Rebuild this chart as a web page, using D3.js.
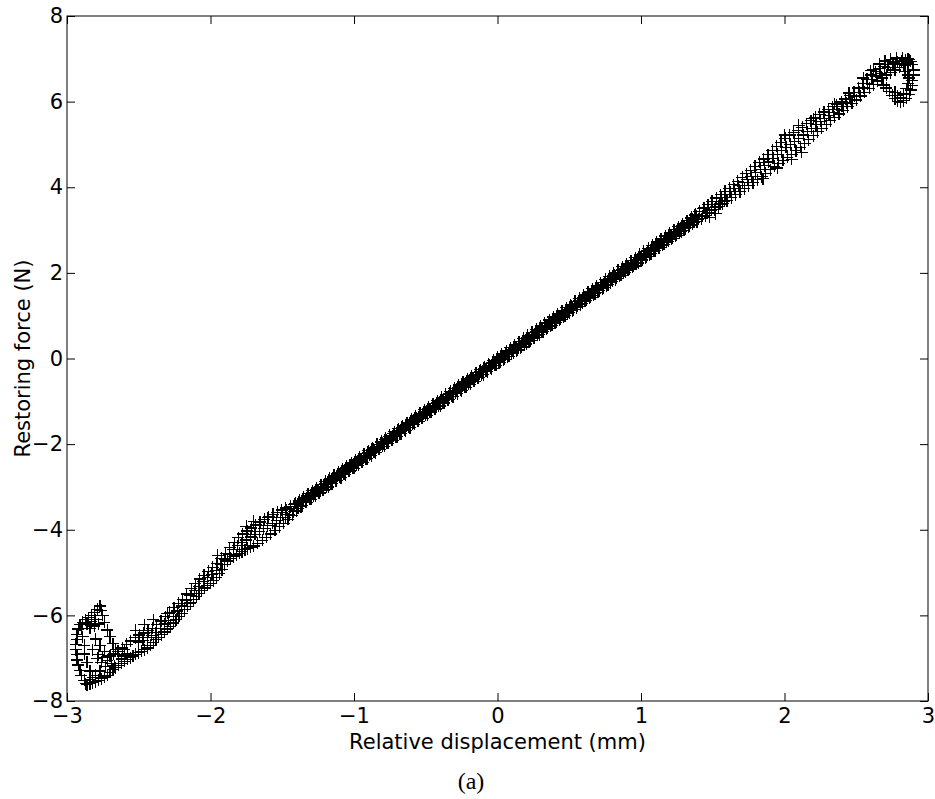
<!DOCTYPE html>
<html>
<head>
<meta charset="utf-8">
<script src="https://cdn.jsdelivr.net/npm/d3@7"></script>
<style>
  body { margin: 0; background: #fff; }
  svg { display: block; }
</style>
</head>
<body>
<svg id="plot"></svg>
<script>
// tick values
const xTicks = [-3, -2, -1, 0, 1, 2, 3];
const yTicks = [-8, -6, -4, -2, 0, 2, 4, 6, 8];

// loading branch (lower side of the band)
const lowerBranch = [
  [-2.86,-7.62],[-2.84,-7.60],[-2.82,-7.57],[-2.80,-7.55],[-2.78,-7.52],[-2.76,-7.48],[-2.74,-7.44],[-2.72,-7.40],
  [-2.70,-7.33],[-2.68,-7.27],[-2.66,-7.22],[-2.64,-7.17],[-2.62,-7.12],[-2.60,-7.07],[-2.58,-7.03],[-2.56,-6.99],
  [-2.54,-6.95],[-2.52,-6.91],[-2.50,-6.87],[-2.48,-6.84],[-2.46,-6.80],[-2.44,-6.76],[-2.42,-6.70],[-2.40,-6.64],
  [-2.38,-6.57],[-2.36,-6.51],[-2.34,-6.45],[-2.32,-6.39],[-2.30,-6.32],[-2.28,-6.26],[-2.26,-6.18],[-2.24,-6.10],
  [-2.22,-6.02],[-2.20,-5.95],[-2.18,-5.87],[-2.16,-5.79],[-2.14,-5.71],[-2.12,-5.63],[-2.10,-5.56],[-2.08,-5.49],
  [-2.06,-5.42],[-2.04,-5.36],[-2.02,-5.30],[-2.00,-5.25],[-1.98,-5.19],[-1.96,-5.12],[-1.94,-5.03],[-1.92,-4.93],
  [-1.90,-4.82],[-1.88,-4.73],[-1.86,-4.67],[-1.84,-4.63],[-1.82,-4.59],[-1.80,-4.55],[-1.78,-4.51],[-1.76,-4.47],
  [-1.74,-4.44],[-1.72,-4.41],[-1.70,-4.38],[-1.67,-4.32],[-1.64,-4.25],[-1.61,-4.18],[-1.58,-4.10],[-1.55,-4.01],
  [-1.52,-3.93],[-1.49,-3.85],[-1.46,-3.76],[-1.43,-3.66],[-1.40,-3.56],[-1.37,-3.46],[-1.34,-3.35],[-1.31,-3.28],
  [-1.28,-3.21],[-1.25,-3.14],[-1.22,-3.06],[-1.19,-2.99],[-1.16,-2.92],[-1.13,-2.85],[-1.10,-2.77],[-1.07,-2.70],
  [-1.04,-2.63],[-1.01,-2.55],[-0.98,-2.48],[-0.95,-2.41],[-0.92,-2.34],[-0.89,-2.26],[-0.86,-2.19],[-0.83,-2.12],
  [-0.80,-2.05],[-0.77,-1.97],[-0.74,-1.90],[-0.71,-1.83],[-0.68,-1.76],[-0.65,-1.68],[-0.62,-1.61],[-0.59,-1.54],
  [-0.56,-1.47],[-0.53,-1.39],[-0.50,-1.32],[-0.47,-1.25],[-0.44,-1.17],[-0.41,-1.10],[-0.38,-1.03],[-0.35,-0.96],
  [-0.32,-0.88],[-0.29,-0.81],[-0.26,-0.74],[-0.23,-0.67],[-0.20,-0.59],[-0.17,-0.52],[-0.14,-0.45],[-0.11,-0.38],
  [-0.08,-0.30],[-0.05,-0.23],[-0.02,-0.16],[0.01,-0.10],[0.04,-0.03],[0.07,0.04],[0.10,0.11],[0.13,0.18],
  [0.16,0.25],[0.19,0.32],[0.22,0.39],[0.25,0.47],[0.28,0.54],[0.31,0.61],[0.34,0.68],[0.37,0.76],
  [0.40,0.83],[0.43,0.90],[0.46,0.97],[0.49,1.05],[0.52,1.12],[0.55,1.19],[0.58,1.26],[0.61,1.34],
  [0.64,1.41],[0.67,1.48],[0.70,1.55],[0.73,1.63],[0.76,1.70],[0.79,1.77],[0.82,1.84],[0.85,1.92],
  [0.88,1.99],[0.91,2.06],[0.94,2.13],[0.97,2.21],[1.00,2.28],[1.03,2.35],[1.06,2.42],[1.09,2.50],
  [1.12,2.57],[1.15,2.64],[1.18,2.71],[1.21,2.78],[1.24,2.85],[1.27,2.92],[1.30,2.99],[1.33,3.06],
  [1.36,3.13],[1.39,3.20],[1.42,3.27],[1.45,3.34],[1.48,3.41],[1.51,3.48],[1.54,3.55],[1.57,3.62],
  [1.60,3.69],[1.63,3.76],[1.66,3.83],[1.69,3.90],[1.72,3.97],[1.75,4.04],[1.78,4.11],[1.81,4.18],
  [1.84,4.25],[1.87,4.33],[1.90,4.41],[1.93,4.49],[1.96,4.56],[1.99,4.63],[2.02,4.70],[2.05,4.77],
  [2.08,4.85],[2.11,4.93],[2.14,5.02],[2.17,5.11],[2.20,5.20],[2.23,5.30],[2.26,5.38],[2.29,5.46],
  [2.32,5.55],[2.35,5.63],[2.38,5.71],[2.41,5.80],[2.44,5.88],[2.47,5.96],[2.50,6.04],[2.53,6.13],
  [2.56,6.22],[2.59,6.31],[2.62,6.40],[2.65,6.48],[2.68,6.55],[2.71,6.62],[2.74,6.68],[2.77,6.74],
  [2.80,6.80],[2.83,6.86],[2.86,6.90],[2.88,6.94]
];

// unloading branch (upper side of the band)
const upperBranch = [
  [-2.705,-6.95],[-2.675,-6.90],[-2.645,-6.84],[-2.615,-6.76],[-2.585,-6.68],[-2.555,-6.60],[-2.525,-6.52],[-2.495,-6.46],
  [-2.465,-6.41],[-2.435,-6.36],[-2.405,-6.30],[-2.375,-6.22],[-2.345,-6.13],[-2.315,-6.03],[-2.285,-5.93],[-2.255,-5.82],
  [-2.225,-5.72],[-2.195,-5.62],[-2.165,-5.50],[-2.135,-5.38],[-2.105,-5.26],[-2.075,-5.15],[-2.045,-5.06],[-2.015,-4.97],
  [-1.985,-4.88],[-1.955,-4.78],[-1.925,-4.67],[-1.895,-4.55],[-1.865,-4.42],[-1.835,-4.30],[-1.805,-4.19],[-1.775,-4.10],
  [-1.745,-4.03],[-1.715,-3.96],[-1.685,-3.89],[-1.655,-3.82],[-1.625,-3.76],[-1.595,-3.70],[-1.565,-3.64],[-1.535,-3.59],
  [-1.505,-3.54],[-1.475,-3.49],[-1.445,-3.46],[-1.415,-3.41],[-1.385,-3.35],[-1.355,-3.28],[-1.325,-3.21],[-1.295,-3.13],
  [-1.265,-3.06],[-1.235,-2.99],[-1.205,-2.92],[-1.175,-2.84],[-1.145,-2.77],[-1.115,-2.70],[-1.085,-2.63],[-1.055,-2.55],
  [-1.025,-2.48],[-0.995,-2.41],[-0.965,-2.34],[-0.935,-2.26],[-0.905,-2.19],[-0.875,-2.12],[-0.845,-2.05],[-0.815,-1.97],
  [-0.785,-1.90],[-0.755,-1.83],[-0.725,-1.76],[-0.695,-1.68],[-0.665,-1.61],[-0.635,-1.54],[-0.605,-1.46],[-0.575,-1.39],
  [-0.545,-1.32],[-0.515,-1.25],[-0.485,-1.17],[-0.455,-1.10],[-0.425,-1.03],[-0.395,-0.96],[-0.365,-0.88],[-0.335,-0.81],
  [-0.305,-0.74],[-0.275,-0.67],[-0.245,-0.59],[-0.215,-0.52],[-0.185,-0.45],[-0.155,-0.38],[-0.125,-0.30],[-0.095,-0.23],
  [-0.065,-0.16],[-0.035,-0.09],[-0.005,-0.02],[0.025,0.05],[0.055,0.12],[0.085,0.19],[0.115,0.26],[0.145,0.33],
  [0.175,0.40],[0.205,0.48],[0.235,0.55],[0.265,0.62],[0.295,0.69],[0.325,0.77],[0.355,0.84],[0.385,0.91],
  [0.415,0.98],[0.445,1.06],[0.475,1.13],[0.505,1.20],[0.535,1.27],[0.565,1.35],[0.595,1.42],[0.625,1.49],
  [0.655,1.56],[0.685,1.64],[0.715,1.71],[0.745,1.78],[0.775,1.86],[0.805,1.93],[0.835,2.00],[0.865,2.07],
  [0.895,2.15],[0.925,2.22],[0.955,2.29],[0.985,2.36],[1.015,2.44],[1.045,2.51],[1.075,2.58],[1.105,2.66],
  [1.135,2.73],[1.165,2.80],[1.195,2.87],[1.225,2.95],[1.255,3.02],[1.285,3.10],[1.315,3.18],[1.345,3.27],
  [1.375,3.35],[1.405,3.43],[1.435,3.51],[1.465,3.59],[1.495,3.67],[1.525,3.75],[1.555,3.83],[1.585,3.91],
  [1.615,3.98],[1.645,4.06],[1.675,4.14],[1.705,4.23],[1.735,4.32],[1.765,4.40],[1.795,4.49],[1.825,4.58],
  [1.855,4.66],[1.885,4.76],[1.915,4.86],[1.945,4.96],[1.975,5.05],[2.005,5.14],[2.035,5.22],[2.065,5.28],
  [2.095,5.33],[2.125,5.40],[2.155,5.48],[2.185,5.55],[2.215,5.63],[2.245,5.70],[2.275,5.76],[2.305,5.82],
  [2.335,5.88],[2.365,5.93],[2.395,5.99],[2.425,6.06],[2.455,6.14],[2.485,6.22],[2.515,6.32],[2.545,6.42],
  [2.575,6.52],[2.605,6.62],[2.635,6.70],[2.665,6.77],[2.695,6.82],[2.725,6.86],[2.755,6.90],[2.785,6.93],
  [2.815,6.95],[2.845,6.97],[2.87,6.98]
];

// later cycles filling the dense middle of the band
const middleCycleA = [
  [-1.48,-3.72],[-1.45,-3.65],[-1.42,-3.58],[-1.39,-3.50],[-1.36,-3.43],[-1.33,-3.36],[-1.30,-3.29],[-1.27,-3.21],
  [-1.24,-3.14],[-1.21,-3.07],[-1.18,-3.00],[-1.15,-2.92],[-1.12,-2.85],[-1.09,-2.78],[-1.06,-2.71],[-1.03,-2.63],
  [-1.00,-2.56],[-0.97,-2.49],[-0.94,-2.42],[-0.91,-2.34],[-0.88,-2.27],[-0.85,-2.20],[-0.82,-2.12],[-0.79,-2.05],
  [-0.76,-1.98],[-0.73,-1.91],[-0.70,-1.83],[-0.67,-1.76],[-0.64,-1.69],[-0.61,-1.62],[-0.58,-1.54],[-0.55,-1.47],
  [-0.52,-1.40],[-0.49,-1.33],[-0.46,-1.25],[-0.43,-1.18],[-0.40,-1.11],[-0.37,-1.04],[-0.34,-0.96],[-0.31,-0.89],
  [-0.28,-0.82],[-0.25,-0.75],[-0.22,-0.67],[-0.19,-0.60],[-0.16,-0.53],[-0.13,-0.45],[-0.10,-0.38],[-0.07,-0.31],
  [-0.04,-0.24],[-0.01,-0.16],[0.02,-0.09],[0.05,-0.02],[0.08,0.05],[0.11,0.13],[0.14,0.20],[0.17,0.27],
  [0.20,0.34],[0.23,0.42],[0.26,0.49],[0.29,0.56],[0.32,0.63],[0.35,0.71],[0.38,0.78],[0.41,0.85],
  [0.44,0.92],[0.47,1.00],[0.50,1.07],[0.53,1.14],[0.56,1.22],[0.59,1.29],[0.62,1.36],[0.65,1.43],
  [0.68,1.51],[0.71,1.58],[0.74,1.65],[0.77,1.72],[0.80,1.80],[0.83,1.87],[0.86,1.94],[0.89,2.01],
  [0.92,2.09],[0.95,2.16],[0.98,2.23],[1.01,2.30],[1.04,2.38],[1.07,2.45],[1.10,2.52],[1.13,2.59],
  [1.16,2.67],[1.19,2.74],[1.22,2.81],[1.25,2.88],[1.28,2.96],[1.31,3.03],[1.34,3.10],[1.37,3.18],
  [1.40,3.25],[1.43,3.32],[1.46,3.39],[1.49,3.47],[1.52,3.54],[1.55,3.61],[1.58,3.68]
];

const middleCycleB = [
  [-1.50,-3.60],[-1.47,-3.53],[-1.44,-3.45],[-1.41,-3.38],[-1.38,-3.31],[-1.35,-3.24],[-1.32,-3.16],[-1.29,-3.09],
  [-1.26,-3.02],[-1.23,-2.95],[-1.20,-2.87],[-1.17,-2.80],[-1.14,-2.73],[-1.11,-2.66],[-1.08,-2.58],[-1.05,-2.51],
  [-1.02,-2.44],[-0.99,-2.37],[-0.96,-2.29],[-0.93,-2.22],[-0.90,-2.15],[-0.87,-2.08],[-0.84,-2.00],[-0.81,-1.93],
  [-0.78,-1.86],[-0.75,-1.79],[-0.72,-1.71],[-0.69,-1.64],[-0.66,-1.57],[-0.63,-1.50],[-0.60,-1.42],[-0.57,-1.35],
  [-0.54,-1.28],[-0.51,-1.20],[-0.48,-1.13],[-0.45,-1.06],[-0.42,-0.99],[-0.39,-0.91],[-0.36,-0.84],[-0.33,-0.77],
  [-0.30,-0.70],[-0.27,-0.62],[-0.24,-0.55],[-0.21,-0.48],[-0.18,-0.41],[-0.15,-0.33],[-0.12,-0.26],[-0.09,-0.19],
  [-0.06,-0.12],[-0.03,-0.04],[0.00,0.03],[0.03,0.10],[0.06,0.18],[0.09,0.25],[0.12,0.32],[0.15,0.39],
  [0.18,0.47],[0.21,0.54],[0.24,0.61],[0.27,0.68],[0.30,0.76],[0.33,0.83],[0.36,0.90],[0.39,0.97],
  [0.42,1.05],[0.45,1.12],[0.48,1.19],[0.51,1.26],[0.54,1.34],[0.57,1.41],[0.60,1.48],[0.63,1.55],
  [0.66,1.63],[0.69,1.70],[0.72,1.77],[0.75,1.85],[0.78,1.92],[0.81,1.99],[0.84,2.06],[0.87,2.14],
  [0.90,2.21],[0.93,2.28],[0.96,2.35],[0.99,2.43],[1.02,2.50],[1.05,2.57],[1.08,2.64],[1.11,2.72],
  [1.14,2.79],[1.17,2.86],[1.20,2.93],[1.23,3.01],[1.26,3.08],[1.29,3.15],[1.32,3.22],[1.35,3.30],
  [1.38,3.37],[1.41,3.44],[1.44,3.52],[1.47,3.59],[1.50,3.66]
];

const middleCycleC = [
  [-1.315,-3.21],[-1.285,-3.14],[-1.255,-3.07],[-1.225,-2.99],[-1.195,-2.92],[-1.165,-2.85],[-1.135,-2.78],[-1.105,-2.70],
  [-1.075,-2.63],[-1.045,-2.56],[-1.015,-2.49],[-0.985,-2.41],[-0.955,-2.34],[-0.925,-2.27],[-0.895,-2.20],[-0.865,-2.12],
  [-0.835,-2.05],[-0.805,-1.98],[-0.775,-1.91],[-0.745,-1.83],[-0.715,-1.76],[-0.685,-1.69],[-0.655,-1.62],[-0.625,-1.54],
  [-0.595,-1.47],[-0.565,-1.40],[-0.535,-1.32],[-0.505,-1.25],[-0.475,-1.18],[-0.445,-1.11],[-0.415,-1.03],[-0.385,-0.96],
  [-0.355,-0.89],[-0.325,-0.82],[-0.295,-0.74],[-0.265,-0.67],[-0.235,-0.60],[-0.205,-0.53],[-0.175,-0.45],[-0.145,-0.38],
  [-0.115,-0.31],[-0.085,-0.24],[-0.055,-0.16],[-0.025,-0.09],[0.005,-0.02],[0.035,0.05],[0.065,0.13],[0.095,0.20],
  [0.125,0.27],[0.155,0.35],[0.185,0.42],[0.215,0.49],[0.245,0.56],[0.275,0.64],[0.305,0.71],[0.335,0.78],
  [0.365,0.85],[0.395,0.93],[0.425,1.00],[0.455,1.07],[0.485,1.14],[0.515,1.22],[0.545,1.29],[0.575,1.36],
  [0.605,1.43],[0.635,1.51],[0.665,1.58],[0.695,1.65],[0.725,1.72],[0.755,1.80],[0.785,1.87],[0.815,1.94],
  [0.845,2.01],[0.875,2.09],[0.905,2.16],[0.935,2.23],[0.965,2.31],[0.995,2.38],[1.025,2.45],[1.055,2.52],
  [1.085,2.60],[1.115,2.67],[1.145,2.74],[1.175,2.81],[1.205,2.89],[1.235,2.96],[1.265,3.03],[1.295,3.10],
  [1.325,3.18],[1.355,3.25],[1.385,3.32]
];

const middleCycleD = [
  [-1.335,-3.31],[-1.305,-3.24],[-1.275,-3.17],[-1.245,-3.09],[-1.215,-3.02],[-1.185,-2.95],[-1.155,-2.88],[-1.125,-2.80],
  [-1.095,-2.73],[-1.065,-2.66],[-1.035,-2.58],[-1.005,-2.51],[-0.975,-2.44],[-0.945,-2.37],[-0.915,-2.29],[-0.885,-2.22],
  [-0.855,-2.15],[-0.825,-2.08],[-0.795,-2.00],[-0.765,-1.93],[-0.735,-1.86],[-0.705,-1.79],[-0.675,-1.71],[-0.645,-1.64],
  [-0.615,-1.57],[-0.585,-1.50],[-0.555,-1.42],[-0.525,-1.35],[-0.495,-1.28],[-0.465,-1.21],[-0.435,-1.13],[-0.405,-1.06],
  [-0.375,-0.99],[-0.345,-0.91],[-0.315,-0.84],[-0.285,-0.77],[-0.255,-0.70],[-0.225,-0.62],[-0.195,-0.55],[-0.165,-0.48],
  [-0.135,-0.41],[-0.105,-0.33],[-0.075,-0.26],[-0.045,-0.19],[-0.015,-0.12],[0.015,-0.04],[0.045,0.03],[0.075,0.10],
  [0.105,0.17],[0.135,0.25],[0.165,0.32],[0.195,0.39],[0.225,0.46],[0.255,0.54],[0.285,0.61],[0.315,0.68],
  [0.345,0.75],[0.375,0.83],[0.405,0.90],[0.435,0.97],[0.465,1.05],[0.495,1.12],[0.525,1.19],[0.555,1.26],
  [0.585,1.34],[0.615,1.41],[0.645,1.48],[0.675,1.55],[0.705,1.63],[0.735,1.70],[0.765,1.77],[0.795,1.84],
  [0.825,1.92],[0.855,1.99],[0.885,2.06],[0.915,2.13],[0.945,2.21],[0.975,2.28],[1.005,2.35],[1.035,2.42],
  [1.065,2.50],[1.095,2.57],[1.125,2.64],[1.155,2.72],[1.185,2.79],[1.215,2.86],[1.245,2.93],[1.275,3.01],
  [1.305,3.08],[1.335,3.15],[1.365,3.22]
];

// scattered points where the band widens near the ends
const leftScatter = [
  [-2.50,-6.62],[-2.47,-6.58],[-2.44,-6.52],[-2.41,-6.47],[-2.38,-6.40],[-2.35,-6.30],[-2.32,-6.20],[-2.29,-6.12],
  [-2.26,-6.02],[-2.23,-5.90],[-2.20,-5.78],[-2.17,-5.66],[-2.14,-5.54],[-2.11,-5.42],[-2.08,-5.32],[-2.05,-5.20],
  [-2.02,-5.12],[-1.99,-5.04],[-1.96,-4.95],[-1.93,-4.82],[-1.90,-4.70],[-1.87,-4.57],[-1.84,-4.46],[-1.81,-4.37],
  [-1.78,-4.30],[-1.75,-4.24],[-1.72,-4.17],[-1.69,-4.11],[-1.66,-4.05],[-1.63,-3.98],[-1.60,-3.91],[-1.57,-3.85],
  [-1.54,-3.78],[-1.51,-3.72],[-2.40,-6.10],[-2.46,-6.22],[-2.52,-6.35],[-2.30,-5.95],[-1.95,-4.60],[-1.60,-3.72],
  [-1.70,-3.80],[-1.75,-3.92],[-2.60,-6.80]
];

const rightScatter = [
  [1.56,3.76],[1.59,3.83],[1.62,3.90],[1.65,3.97],[1.68,4.04],[1.71,4.11],[1.74,4.19],[1.77,4.26],
  [1.80,4.34],[1.83,4.42],[1.86,4.50],[1.89,4.59],[1.92,4.68],[1.95,4.77],[1.98,4.85],[2.01,4.93],
  [2.04,5.00],[2.07,5.07],[2.10,5.14],[2.13,5.22],[2.16,5.30],[2.19,5.38],[2.22,5.46],[2.25,5.54],
  [2.28,5.61],[2.31,5.68],[2.34,5.75],[2.37,5.82],[2.40,5.89],[2.43,5.97],[2.46,6.05],[2.49,6.13],
  [2.52,6.22],[2.55,6.32],[2.58,6.42],[2.61,6.52],[2.64,6.60],[2.67,6.66],[1.48,3.30],[1.52,3.38],
  [1.85,4.20],[1.95,4.45],[2.05,4.65],[2.12,4.82],[2.00,5.22],[2.10,5.45],[2.20,5.60],[2.35,5.95],
  [2.45,6.20],[2.55,6.55],[2.60,6.72]
];

// turn-around at maximum displacement
const rightTurn = [
  [2.62,6.75],[2.66,6.88],[2.70,6.95],[2.74,6.99],[2.78,7.02],[2.82,7.03],[2.86,7.00],[2.72,6.80],
  [2.76,6.86],[2.80,6.88],[2.84,6.84],[2.89,6.86],[2.90,6.74],[2.90,6.62],[2.89,6.50],[2.89,6.38],
  [2.88,6.27],[2.87,6.17],[2.85,6.08],[2.83,6.02],[2.81,5.98],[2.79,6.01],[2.77,6.07],[2.75,6.15],
  [2.73,6.24],[2.71,6.32],[2.69,6.39],[2.87,6.55],[2.86,6.42],[2.85,6.30],[2.83,6.18],[2.81,6.10],
  [2.79,6.14],[2.77,6.22],[2.84,6.70],[2.86,6.62]
];

// turn-around at minimum displacement
const leftTurn = [
  [-2.62,-7.02],[-2.64,-6.92],[-2.66,-6.80],[-2.68,-6.66],[-2.70,-6.50],[-2.72,-6.34],[-2.74,-6.16],[-2.75,-6.00],
  [-2.76,-5.88],[-2.77,-5.78],[-2.79,-5.86],[-2.81,-5.94],[-2.83,-6.00],[-2.85,-6.05],[-2.87,-6.10],[-2.89,-6.16],
  [-2.91,-6.22],[-2.92,-6.32],[-2.93,-6.44],[-2.93,-6.56],[-2.94,-6.68],[-2.94,-6.80],[-2.93,-6.92],[-2.93,-7.04],
  [-2.92,-7.16],[-2.91,-7.28],[-2.90,-7.40],[-2.88,-7.52],[-2.87,-7.60],[-2.72,-7.05],[-2.69,-7.12],[-2.67,-7.18],
  [-2.75,-6.98],[-2.78,-6.92],[-2.70,-6.95],[-2.60,-6.95],[-2.58,-6.90],[-2.90,-6.30],[-2.89,-6.50],[-2.88,-6.70],
  [-2.88,-6.90],[-2.86,-7.10],[-2.84,-7.30],[-2.82,-7.45],[-2.86,-6.20],[-2.83,-6.15],[-2.80,-6.10],[-2.84,-6.30],
  [-2.81,-6.25],[-2.78,-6.20],[-2.80,-6.55],[-2.77,-6.70],[-2.74,-6.85],[-2.82,-6.80],[-2.79,-7.00],[-2.76,-7.10],
  [-2.73,-7.20],[-2.84,-7.50],[-2.80,-7.40],[-2.77,-7.30]
];

const margin = { top: 16, right: 7, bottom: 98, left: 67 };
const width = 935 - margin.left - margin.right;
const height = 799 - margin.top - margin.bottom;
const fontSans = '"DejaVu Sans", "Noto Sans", sans-serif';
const fontSize = 21;

const svg = d3.select('#plot')
  .attr('width', 935)
  .attr('height', 799);

const g = svg.append('g')
  .attr('transform', `translate(${margin.left}, ${margin.top})`);

const xScale = d3.scaleLinear().domain([-3, 3]).range([0, width]);
const yScale = d3.scaleLinear().domain([-8, 8]).range([height, 0]);

const styleAxis = sel => {
  sel.attr('font-family', fontSans).attr('font-size', fontSize);
  sel.select('.domain').remove();
  sel.selectAll('.tick line').attr('stroke', '#000').attr('stroke-width', 1);
  sel.selectAll('.tick text').attr('fill', '#000');
};

// bottom axis with labels, ticks inside
g.append('g')
  .attr('transform', `translate(0, ${height})`)
  .call(d3.axisBottom(xScale).tickValues(xTicks).tickFormat(d3.format('d'))
    .tickSizeInner(-8).tickSizeOuter(0).tickPadding(7))
  .call(styleAxis);

// left axis with labels
g.append('g')
  .call(d3.axisLeft(yScale).tickValues(yTicks).tickFormat(d3.format('d'))
    .tickSizeInner(-8).tickSizeOuter(0).tickPadding(4))
  .call(styleAxis);

// top and right: ticks only
g.append('g')
  .call(d3.axisTop(xScale).tickValues(xTicks).tickSizeInner(-8).tickSizeOuter(0).tickFormat(''))
  .call(styleAxis);

g.append('g')
  .attr('transform', `translate(${width}, 0)`)
  .call(d3.axisRight(yScale).tickValues(yTicks).tickSizeInner(-8).tickSizeOuter(0).tickFormat(''))
  .call(styleAxis);

// frame
g.append('rect')
  .attr('x', 0)
  .attr('y', 0)
  .attr('width', width)
  .attr('height', height)
  .attr('fill', 'none')
  .attr('stroke', '#000')
  .attr('stroke-width', 1);

// '+' markers
const points = [
  ...lowerBranch, ...upperBranch, ...middleCycleA, ...middleCycleB,
  ...middleCycleC, ...middleCycleD,
  ...leftScatter, ...rightScatter, ...rightTurn, ...leftTurn
];

g.append('g')
  .attr('shape-rendering', 'crispEdges')
  .selectAll('path')
  .data(points)
  .join('path')
  .attr('d', 'M-6,0H6M0,-6V6')
  .attr('transform', d => `translate(${xScale(d[0])}, ${yScale(d[1])})`)
  .attr('fill', 'none')
  .attr('stroke', '#000')
  .attr('stroke-width', 1.2);

// axis labels
svg.append('text')
  .attr('x', margin.left + width / 2)
  .attr('y', 749)
  .attr('text-anchor', 'middle')
  .attr('font-family', fontSans)
  .attr('font-size', fontSize)
  .text('Relative displacement (mm)');

svg.append('text')
  .attr('transform', `translate(30, ${margin.top + height / 2}) rotate(-90)`)
  .attr('text-anchor', 'middle')
  .attr('font-family', fontSans)
  .attr('font-size', fontSize)
  .text('Restoring force (N)');

// sub-figure caption
svg.append('text')
  .attr('x', 471)
  .attr('y', 789)
  .attr('text-anchor', 'middle')
  .attr('font-family', '"Liberation Serif", "DejaVu Serif", serif')
  .attr('font-size', 24)
  .text('(a)');
</script>
</body>
</html>
